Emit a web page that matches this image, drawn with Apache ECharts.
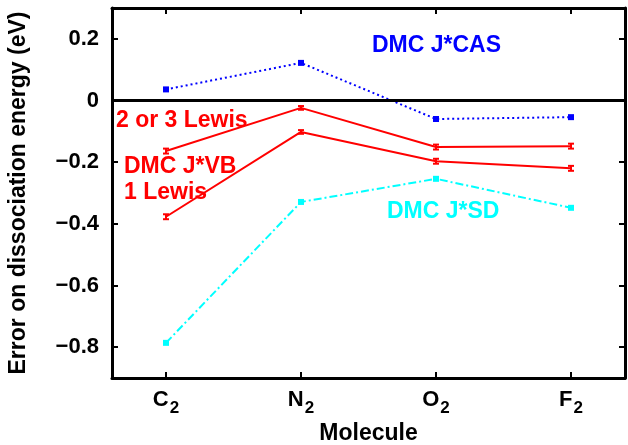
<!DOCTYPE html>
<html><head><meta charset="utf-8">
<script src="https://cdn.jsdelivr.net/npm/echarts@6/dist/echarts.min.js"></script>
<style>html,body{margin:0;padding:0;background:#fff}#c{width:628px;height:445px}</style>
</head><body><div id="c"></div>
<script>
const molecules = ['C', 'N', 'O', 'F'];
const subscripts = ['2', '2', '2', '2'];
const xPos = [1, 2, 3, 4];
const yTicks = [-0.8, -0.6, -0.4, -0.2, 0, 0.2];
const casVals = [0.036, 0.122, -0.060, -0.054];
const vb23Vals = [-0.164, -0.024, -0.151, -0.148];
const vb1Vals = [-0.377, -0.102, -0.197, -0.220];
const sdVals = [-0.786, -0.329, -0.254, -0.348];
const vbErr = [0.008, 0.006, 0.008, 0.008];

const FONT = '"Liberation Sans", Arial, sans-serif';
const pts = v => xPos.map((x, i) => [x, v[i]]);
const errPts = (v, e) => xPos.map((x, i) => [x, v[i], e[i]]);

const errSeries = (v, e) => ({
  type: 'custom', data: errPts(v, e), z: 5, silent: true,
  renderItem: (params, api) => {
    const x = api.value(0), y = api.value(1), e2 = api.value(2);
    const lo = api.coord([x, y - e2]), hi = api.coord([x, y + e2]);
    const s = { stroke: '#ff0000', lineWidth: 2 };
    return { type: 'group', children: [
      { type: 'line', shape: { x1: lo[0], y1: lo[1], x2: hi[0], y2: hi[1] }, style: s },
      { type: 'line', shape: { x1: lo[0] - 3, y1: lo[1], x2: lo[0] + 3, y2: lo[1] }, style: s },
      { type: 'line', shape: { x1: hi[0] - 3, y1: hi[1], x2: hi[0] + 3, y2: hi[1] }, style: s }
    ]};
  }
});

const chart = echarts.init(document.getElementById('c'), null, { renderer: 'canvas' });
const tickStyle = { inside: true, length: 6, lineStyle: { color: '#000', width: 2 } };
const axisLine = { show: true, onZero: false, lineStyle: { color: '#000', width: 3 } };
chart.setOption({
  animation: false,
  backgroundColor: '#fff',
  grid: { left: 112, right: 3, top: 8, bottom: 67, containLabel: false, outerBoundsMode: 'none' },
  xAxis: [{
    type: 'value', min: 0.6, max: 4.4, position: 'bottom',
    axisLine, splitLine: { show: false },
    axisTick: Object.assign({ customValues: xPos }, tickStyle),
    axisLabel: {
      customValues: xPos, margin: 11,
      formatter: v => { const i = xPos.indexOf(v); return i < 0 ? '' : '{m|' + molecules[i] + '}{s|' + subscripts[i] + '}'; },
      rich: {
        m: { fontFamily: FONT, fontWeight: 'bold', fontSize: 22, lineHeight: 22, verticalAlign: 'top', color: '#000' },
        s: { fontFamily: FONT, fontWeight: 'bold', fontSize: 17, lineHeight: 17, padding: [11, 0, 0, 1], verticalAlign: 'top', color: '#000' }
      }
    },
    name: 'Molecule', nameLocation: 'middle', nameGap: 43,
    nameTextStyle: { fontFamily: FONT, fontWeight: 'bold', fontSize: 23, color: '#000' }
  }, {
    type: 'value', min: 0.6, max: 4.4, position: 'top',
    axisLine, splitLine: { show: false },
    axisTick: Object.assign({ customValues: xPos }, tickStyle),
    axisLabel: { show: false }
  }],
  yAxis: [{
    type: 'value', min: -0.9, max: 0.3, position: 'left',
    axisLine, splitLine: { show: false },
    axisTick: Object.assign({ customValues: yTicks }, tickStyle),
    axisLabel: {
      customValues: yTicks, margin: 13,
      fontFamily: FONT, fontWeight: 'bold', fontSize: 22, color: '#000',
      formatter: v => Math.abs(v) < 1e-9 ? '0' : (v < 0 ? '\u2212' + Math.abs(v).toFixed(1) : v.toFixed(1))
    },
    name: 'Error on dissociation energy (eV)', nameLocation: 'middle', nameGap: 82,
    nameTextStyle: { fontFamily: FONT, fontWeight: 'bold', fontSize: 23, color: '#000' }
  }, {
    type: 'value', min: -0.9, max: 0.3, position: 'right',
    axisLine, splitLine: { show: false },
    axisTick: Object.assign({ customValues: yTicks }, tickStyle),
    axisLabel: { show: false }
  }],
  series: [
    { type: 'line', data: pts(casVals), symbol: 'rect', symbolSize: 6, z: 4,
      itemStyle: { color: '#0000ff' }, lineStyle: { color: '#0000ff', width: 2, type: [2, 3] },
      markLine: { silent: true, symbol: 'none', label: { show: false },
        lineStyle: { color: '#000', width: 3, type: 'solid' }, data: [{ yAxis: 0 }] } },
    { type: 'line', data: pts(vb23Vals), symbol: 'none', z: 4,
      lineStyle: { color: '#ff0000', width: 2, type: 'solid' } },
    { type: 'line', data: pts(vb1Vals), symbol: 'none', z: 4,
      lineStyle: { color: '#ff0000', width: 2, type: 'solid' } },
    errSeries(vb23Vals, vbErr),
    errSeries(vb1Vals, vbErr),
    { type: 'line', data: pts(sdVals), symbol: 'rect', symbolSize: 6, z: 4,
      itemStyle: { color: '#00ffff' }, lineStyle: { color: '#00ffff', width: 2, type: [8, 3, 2, 3] } }
  ],
  graphic: [
    { type: 'text', left: 372, top: 34, style: { text: 'DMC J*CAS', fill: '#0000ff', font: 'bold 23px ' + FONT } },
    { type: 'text', left: 116, top: 109, style: { text: '2 or 3 Lewis', fill: '#ff0000', font: 'bold 23px ' + FONT } },
    { type: 'text', left: 124, top: 155, style: { text: 'DMC J*VB', fill: '#ff0000', font: 'bold 23px ' + FONT } },
    { type: 'text', left: 124, top: 181, style: { text: '1 Lewis', fill: '#ff0000', font: 'bold 23px ' + FONT } },
    { type: 'text', left: 387, top: 200, style: { text: 'DMC J*SD', fill: '#00ffff', font: 'bold 23px ' + FONT } }
  ]
});
</script></body></html>
